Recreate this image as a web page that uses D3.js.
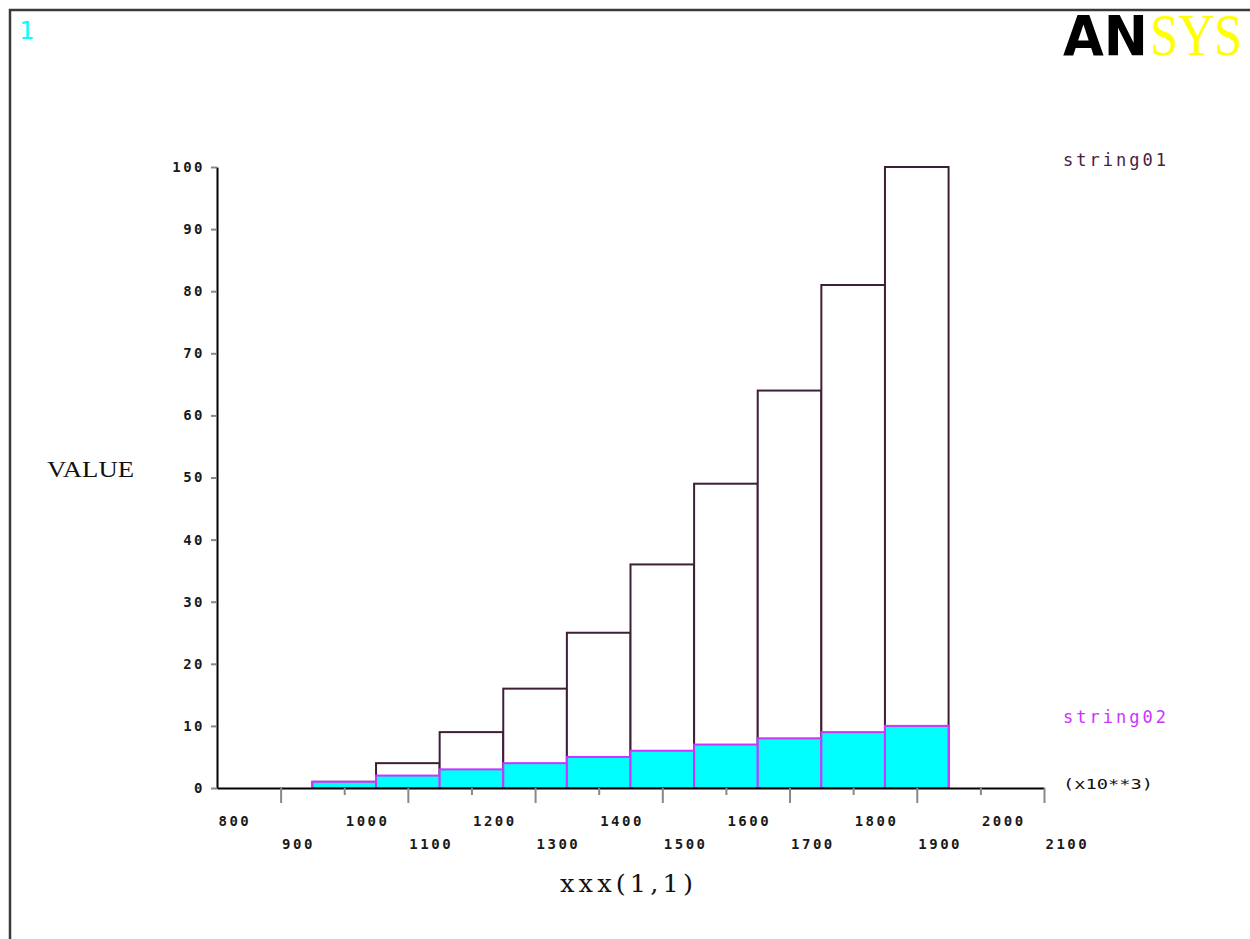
<!DOCTYPE html>
<html>
<head>
<meta charset="utf-8">
<script src="https://cdn.jsdelivr.net/npm/d3@7"></script>
<style>
  body { margin: 0; background: #fff; }
  svg { display: block; }
</style>
</head>
<body>
<div id="chart"></div>
<script>
// bin centers along xxx(1,1) and the two series
const binCenters = [1000, 1100, 1200, 1300, 1400, 1500, 1600, 1700, 1800, 1900];
const binWidth = 100;
const string01 = [1, 4, 9, 16, 25, 36, 49, 64, 81, 100];
const string02 = [1, 2, 3, 4, 5, 6, 7, 8, 9, 10];

// tick labels
const xTicks = [800, 900, 1000, 1100, 1200, 1300, 1400, 1500, 1600, 1700, 1800, 1900, 2000, 2100];
const yTicks = [0, 10, 20, 30, 40, 50, 60, 70, 80, 90, 100];

const width = 1250;
const height = 939;

const svg = d3
  .select("#chart")
  .append("svg")
  .attr("width", width)
  .attr("height", height);

// window frame
svg
  .append("path")
  .attr("d", "M10," + height + " L10,10 L" + width + ",10")
  .attr("fill", "none")
  .attr("stroke", "#3a3a3a")
  .attr("stroke-width", 2.5);

// window number
svg
  .append("text")
  .attr("x", 19)
  .attr("y", 39)
  .style("font-family", "DejaVu Sans Mono")
  .style("font-size", "25px")
  .attr("fill", "#00ffff")
  .text("1");

// logo
svg
  .append("text")
  .attr("x", 1063)
  .attr("y", 55)
  .attr("textLength", 85)
  .attr("lengthAdjust", "spacingAndGlyphs")
  .style("font-family", "DejaVu Sans")
  .style("font-weight", "bold")
  .style("font-size", "55px")
  .attr("fill", "#000")
  .text("AN");

svg
  .append("text")
  .attr("transform", "translate(1150,55) scale(1,1.2)")
  .attr("textLength", 92)
  .attr("lengthAdjust", "spacingAndGlyphs")
  .style("font-family", "Liberation Serif")
  .style("font-size", "50px")
  .attr("fill", "#ffff00")
  .text("SYS");

// scales
const x = d3.scaleLinear().domain([800, 2100]).range([217, 1044]);
const y = d3.scaleLinear().domain([0, 100]).range([788, 167]);

const tickFont = "DejaVu Sans Mono";
const titleFont = "Liberation Serif";

// string01 bars (outline)
svg
  .selectAll(".bar1")
  .data(binCenters)
  .enter()
  .append("rect")
  .attr("class", "bar1")
  .attr("x", (d) => x(d - binWidth / 2))
  .attr("width", (d) => x(d + binWidth / 2) - x(d - binWidth / 2))
  .attr("y", (d, i) => y(string01[i]))
  .attr("height", (d, i) => y(0) - y(string01[i]))
  .attr("fill", "#fff")
  .attr("stroke", "#3d1f36")
  .attr("stroke-width", 2);

// string02 bars (filled)
svg
  .selectAll(".bar2")
  .data(binCenters)
  .enter()
  .append("rect")
  .attr("class", "bar2")
  .attr("x", (d) => x(d - binWidth / 2))
  .attr("width", (d) => x(d + binWidth / 2) - x(d - binWidth / 2))
  .attr("y", (d, i) => y(string02[i]))
  .attr("height", (d, i) => y(0) - y(string02[i]))
  .attr("fill", "#00ffff")
  .attr("stroke", "#cc33ff")
  .attr("stroke-width", 2);

// y axis
const yAxis = svg
  .append("g")
  .attr("transform", "translate(" + x(800) + ",0)")
  .call(d3.axisLeft(y).tickValues(yTicks).tickSize(6).tickSizeOuter(0).tickPadding(6));

yAxis.select(".domain").attr("stroke", "#000").attr("stroke-width", 2);
yAxis.selectAll(".tick line").attr("stroke", "#888").attr("stroke-width", 2);
yAxis
  .selectAll(".tick text")
  .style("font-family", tickFont)
  .style("font-weight", "bold")
  .style("font-size", "14px")
  .style("letter-spacing", "2.5px")
  .attr("fill", "#1a1a1a");

// x axis with alternating label rows
const xAxis = svg
  .append("g")
  .attr("transform", "translate(0," + y(0) + ")")
  .call(d3.axisBottom(x).tickValues(xTicks).tickSizeOuter(0).tickFormat(d3.format("d")));

xAxis.select(".domain").attr("stroke", "#000").attr("stroke-width", 2);
xAxis
  .selectAll(".tick line")
  .attr("stroke", "#888")
  .attr("stroke-width", 2)
  .attr("y2", (d, i) => (i === 0 ? 0 : i % 2 ? 15 : 7));
xAxis
  .selectAll(".tick text")
  .attr("text-anchor", "start")
  .attr("x", 1)
  .attr("dy", 0)
  .attr("y", (d, i) => (i % 2 ? 61 : 38))
  .style("font-family", tickFont)
  .style("font-weight", "bold")
  .style("font-size", "14px")
  .style("letter-spacing", "2.5px")
  .attr("fill", "#1a1a1a");

// axis titles
svg
  .append("text")
  .attr("x", 47)
  .attr("y", 477)
  .attr("textLength", 87)
  .attr("lengthAdjust", "spacingAndGlyphs")
  .style("font-family", titleFont)
  .style("font-size", "24px")
  .attr("fill", "#111")
  .text("VALUE");

svg
  .append("text")
  .attr("x", 560)
  .attr("y", 892)
  .attr("textLength", 137)
  .attr("lengthAdjust", "spacingAndGlyphs")
  .style("font-family", "DejaVu Serif")
  .style("font-size", "25px")
  .style("letter-spacing", "4px")
  .attr("fill", "#111")
  .text("xxx(1,1)");

// series labels
svg
  .append("text")
  .attr("x", 1063)
  .attr("y", 166)
  .style("font-family", tickFont)
  .style("font-size", "17px")
  .style("letter-spacing", "3px")
  .attr("fill", "#4a2040")
  .text("string01");

svg
  .append("text")
  .attr("x", 1063)
  .attr("y", 723)
  .style("font-family", tickFont)
  .style("font-size", "17px")
  .style("letter-spacing", "3px")
  .attr("fill", "#cc33ff")
  .text("string02");

svg
  .append("text")
  .attr("x", 1063)
  .attr("y", 789)
  .attr("textLength", 90)
  .attr("lengthAdjust", "spacingAndGlyphs")
  .style("font-family", tickFont)
  .style("font-size", "14px")
  .attr("fill", "#111")
  .text("(x10**3)");
</script>
</body>
</html>
